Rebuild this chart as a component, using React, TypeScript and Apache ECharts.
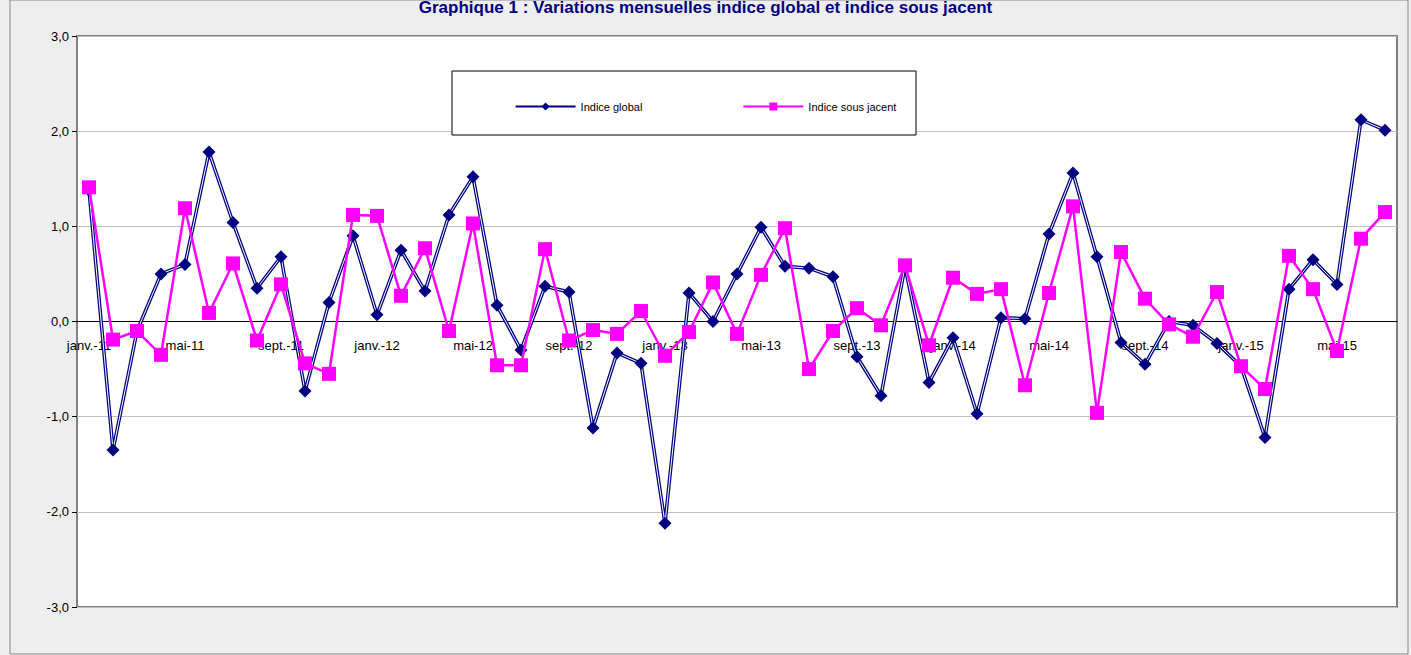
import React, { useEffect, useRef } from 'react'
import * as echarts from 'echarts'

// mois de janv.-11 à juil.-15
const moisNoms = ['janv.', 'févr.', 'mars', 'avr.', 'mai', 'juin', 'juil.', 'août', 'sept.', 'oct.', 'nov.', 'déc.']
const months: string[] = []
for (let y = 11; y <= 15; y++) {
  for (let m = 0; m < 12; m++) {
    if (y === 15 && m > 6) break
    months.push(`${moisNoms[m]}-${y}`)
  }
}

const indiceGlobal = [
  1.38, -1.35, -0.1, 0.5, 0.6, 1.78, 1.04, 0.35, 0.68, -0.73,
  0.2, 0.9, 0.07, 0.75, 0.32, 1.12, 1.52, 0.17, -0.3, 0.37,
  0.31, -1.12, -0.33, -0.44, -2.12, 0.3, 0.0, 0.5, 0.99, 0.58,
  0.56, 0.47, -0.37, -0.78, 0.58, -0.64, -0.17, -0.97, 0.04, 0.03,
  0.92, 1.56, 0.68, -0.22, -0.45, 0.0, -0.04, -0.23, -0.47, -1.22,
  0.34, 0.65, 0.39, 2.12, 2.01,
]

const indiceSousJacent = [
  1.41, -0.19, -0.1, -0.35, 1.19, 0.09, 0.61, -0.2, 0.39, -0.44,
  -0.55, 1.12, 1.11, 0.27, 0.77, -0.1, 1.03, -0.46, -0.46, 0.76,
  -0.2, -0.09, -0.13, 0.11, -0.36, -0.11, 0.41, -0.13, 0.49, 0.98,
  -0.5, -0.1, 0.14, -0.04, 0.59, -0.25, 0.46, 0.29, 0.34, -0.67,
  0.3, 1.21, -0.96, 0.73, 0.24, -0.03, -0.16, 0.31, -0.47, -0.71,
  0.69, 0.34, -0.31, 0.87, 1.15,
]

export default function App() {
  const chartRef = useRef<HTMLDivElement>(null)

  useEffect(() => {
    document.body.style.margin = '0'
    if (!chartRef.current) return
    const chart = echarts.init(chartRef.current, null, { renderer: 'svg' })
    const font = 'Arial, "Liberation Sans", sans-serif'

    chart.setOption({
      animation: false,
      backgroundColor: '#eeeeee',
      textStyle: { fontFamily: font },
      title: {
        text: 'Graphique 1 : Variations mensuelles indice global et indice sous jacent',
        left: 'center',
        top: -6,
        textStyle: { color: '#000080', fontSize: 17, fontWeight: 'bold', fontFamily: font },
      },
      graphic: [
        { type: 'rect', shape: { x: 10, y: 0, width: 1398, height: 654 }, style: { fill: 'none', stroke: '#888', lineWidth: 1 }, silent: true },
        { type: 'rect', shape: { x: 452, y: 71, width: 464, height: 64 }, style: { fill: '#fff', stroke: '#000', lineWidth: 1 }, z: 5, silent: true },
      ],
      legend: {
        top: 96,
        left: 'center',
        itemGap: 100,
        itemWidth: 60,
        itemHeight: 10,
        z: 10,
        data: ['Indice global', 'Indice sous jacent'],
        textStyle: { fontSize: 11, color: '#000' },
      },
      grid: {
        left: 77, right: 14, top: 36, bottom: 48,
        show: true, backgroundColor: '#fff', borderColor: '#808080', borderWidth: 2,
      },
      xAxis: {
        type: 'category',
        data: months,
        boundaryGap: true,
        axisLine: { onZero: true, lineStyle: { color: '#000', width: 1 } },
        axisTick: { show: false },
        axisLabel: { interval: 3, fontSize: 13, color: '#000', margin: -268 },
      },
      yAxis: {
        type: 'value',
        min: -3, max: 3, interval: 1,
        axisLine: { show: false },
        axisTick: { show: true, lineStyle: { color: '#000' } },
        splitLine: { lineStyle: { color: '#c0c0c0' } },
        axisLabel: { fontSize: 13, color: '#000', formatter: (v: number) => v.toFixed(1).replace('.', ',') },
      },
      series: [
        {
          name: 'Indice global',
          type: 'line',
          data: indiceGlobal,
          symbol: 'diamond',
          symbolSize: 13,
          lineStyle: { color: '#000080', width: 3.5 },
          itemStyle: { color: '#000080' },
          z: 2,
        },
        {
          name: 'global-inner',
          type: 'line',
          data: indiceGlobal,
          symbol: 'none',
          lineStyle: { color: '#fff', width: 1 },
          z: 2,
          silent: true,
        },
        {
          name: 'Indice sous jacent',
          type: 'line',
          data: indiceSousJacent,
          symbol: 'rect',
          symbolSize: 14,
          lineStyle: { color: '#ff00ff', width: 2.5 },
          itemStyle: { color: '#ff00ff' },
          z: 3,
        },
      ],
    })

    return () => chart.dispose()
  }, [])

  return <div ref={chartRef} style={{ width: '1411px', height: '655px' }} />
}
